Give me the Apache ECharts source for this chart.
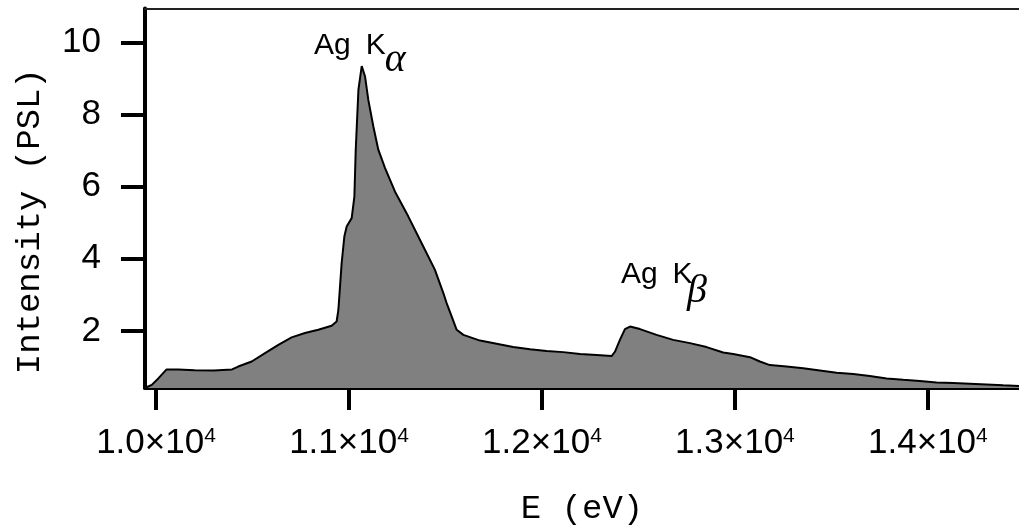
<!DOCTYPE html>
<html>
<head>
<meta charset="utf-8">
<script src="https://cdn.jsdelivr.net/npm/echarts@6/dist/echarts.min.js"></script>
<style>
  html, body { margin: 0; padding: 0; background: #fff; }
  #mycontainer { width: 1019px; height: 527px; }
</style>
</head>
<body>
<div id="mycontainer"></div>
<script>
// photon energy (eV) and intensity (PSL)
var energy = [9945, 9978, 10012, 10055, 10115, 10200, 10300, 10394, 10426, 10496,
    10565, 10634, 10703, 10772, 10841, 10910, 10936, 10945, 10962, 10976,
    10988, 11014, 11028, 11035, 11049, 11066, 11083, 11100, 11126, 11152,
    11187, 11238, 11307, 11376, 11445, 11489, 11506, 11532, 11558, 11593,
    11679, 11765, 11851, 11938, 12024, 12110, 12197, 12283, 12361, 12378,
    12404, 12430, 12456, 12508, 12594, 12680, 12767, 12853, 12939, 12991,
    13078, 13129, 13181, 13267, 13354, 13440, 13527, 13613, 13699, 13786,
    13872, 13958, 14045, 14131, 14217, 14304, 14390, 14480];
var intensity = [0.42, 0.5, 0.68, 0.93, 0.93, 0.91, 0.90, 0.93, 1.01, 1.15,
    1.38, 1.61, 1.82, 1.94, 2.03, 2.14, 2.26, 2.58, 3.88, 4.62,
    4.90, 5.13, 5.73, 7.03, 8.70, 9.35, 9.07, 8.42, 7.68, 7.03,
    6.52, 5.87, 5.18, 4.44, 3.70, 3.05, 2.77, 2.40, 2.03, 1.89,
    1.73, 1.64, 1.55, 1.49, 1.44, 1.41, 1.36, 1.33, 1.30, 1.42,
    1.75, 2.05, 2.12, 2.05, 1.89, 1.75, 1.66, 1.55, 1.40, 1.36,
    1.27, 1.15, 1.05, 1.01, 0.96, 0.90, 0.84, 0.80, 0.75, 0.68,
    0.64, 0.61, 0.57, 0.55, 0.53, 0.51, 0.49, 0.47];
var xTicks = [10000, 11000, 12000, 13000, 14000];
var yTicks = [2, 4, 6, 8, 10];
var peakNames = ['Ag\u2002K', 'Ag\u2002K'];
var peakGreek = ['α', 'β'];

var dom = document.getElementById('mycontainer');
var chart = echarts.init(dom, null, { renderer: 'canvas' });

var points = [];
for (var i = 0; i < energy.length; i++) {
    points.push([energy[i], intensity[i]]);
}

var xMin = 9943, xMax = 14472;
var yMin = 0.414, yMax = 10.95;

var sans = 'Liberation Sans';
var mono = 'Liberation Mono';
var greek = 'Liberation Serif';

function tag(coord, text, font, size, italic) {
    return {
        coord: coord,
        symbol: 'circle',
        symbolSize: 0,
        label: {
            show: true,
            position: 'inside',
            align: 'left',
            verticalAlign: 'middle',
            formatter: text,
            color: '#000',
            fontFamily: font,
            fontSize: size,
            fontStyle: italic ? 'italic' : 'normal'
        }
    };
}

var option = {
    animation: false,
    backgroundColor: '#fff',
    grid: {
        left: 145,
        right: 0,
        top: 8.5,
        bottom: 139,
        outerBoundsMode: 'none' // keep the plot box where it is
    },
    xAxis: [{
        type: 'value',
        min: xMin,
        max: xMax,
        name: 'E (eV)',
        nameLocation: 'middle',
        nameGap: 104,
        nameTextStyle: { fontFamily: mono, fontSize: 34, color: '#000' },
        splitLine: { show: false },
        axisLine: { show: true, onZero: false, lineStyle: { color: '#000', width: 4 } },
        axisTick: { show: true, customValues: xTicks, length: 22, lineStyle: { color: '#000', width: 4 } },
        axisLabel: {
            customValues: xTicks,
            margin: 38,
            formatter: function (v) {
                return '{m|' + (v / 10000).toFixed(1) + '×10}{s|4}';
            },
            rich: {
                m: { fontFamily: sans, fontSize: 35, color: '#000', lineHeight: 35, padding: [7, 0, 0, 0], verticalAlign: 'bottom' },
                s: { fontFamily: sans, fontSize: 21, color: '#000', lineHeight: 21, verticalAlign: 'top' }
            }
        }
    }, {
        // thin frame line along the top
        type: 'value',
        position: 'top',
        min: xMin,
        max: xMax,
        splitLine: { show: false },
        axisLine: { show: true, onZero: false, lineStyle: { color: '#222', width: 2 } },
        axisTick: { show: false },
        axisLabel: { show: false }
    }],
    yAxis: {
        type: 'value',
        min: yMin,
        max: yMax,
        name: 'Intensity (PSL)',
        nameLocation: 'middle',
        nameGap: 98,
        nameTextStyle: { fontFamily: mono, fontSize: 34, color: '#000', padding: [0, 46, 0, 0] },
        splitLine: { show: false },
        axisLine: { show: true, onZero: false, lineStyle: { color: '#000', width: 4 } },
        axisTick: { show: true, customValues: yTicks, length: 24, lineStyle: { color: '#000', width: 4 } },
        axisLabel: {
            customValues: yTicks,
            margin: 44,
            fontFamily: sans,
            fontSize: 35,
            color: '#000'
        }
    },
    series: [{
        type: 'line',
        data: points,
        showSymbol: false,
        silent: true,
        lineStyle: { color: '#000', width: 2 },
        areaStyle: { color: '#808080', opacity: 1, origin: 'start' },
        markPoint: {
            silent: true,
            data: [
                tag([10819, 9.93], peakNames[0], sans, 30, false),
                tag([11186, 9.50], peakGreek[0], greek, 40, true),
                tag([12409, 3.55], peakNames[1], sans, 30, false),
                tag([12751, 3.09], peakGreek[1], greek, 40, true)
            ]
        }
    }]
};

chart.setOption(option);
</script>
</body>
</html>
